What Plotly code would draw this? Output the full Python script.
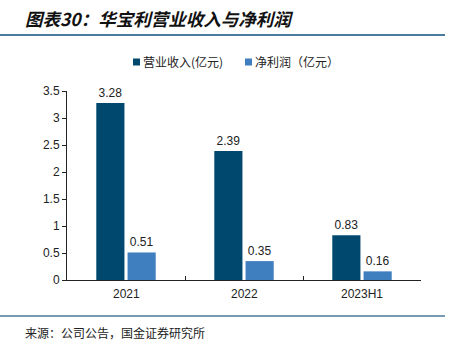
import plotly.graph_objects as go

categories = ["2021", "2022", "2023H1"]
revenue = [3.28, 2.39, 0.83]
net_profit = [0.51, 0.35, 0.16]
revenue_labels = ["3.28", "2.39", "0.83"]
profit_labels = ["0.51", "0.35", "0.16"]
series_names = ["营业收入(亿元)", "净利润（亿元）"]
y_ticks = [0, 0.5, 1, 1.5, 2, 2.5, 3, 3.5]
y_tick_text = ["0", "0.5", "1", "1.5", "2", "2.5", "3", "3.5"]

W, H = 458, 351
X0, X1 = 67, 421
YB, YT = 280, 91


def px(x):
    return (x - X0) / (X1 - X0)


def py(y):
    return (YB - y) / (YB - YT)


DARK = "#00486E"
LIGHT = "#3F7EBF"
LINE = "#4A7A9C"
NUM_FONT = "Liberation Sans, Arial, sans-serif"
CJK = "Noto Sans CJK SC"
colors = [DARK, LIGHT]

fig = go.Figure()
for vals, labels, name, col in [(revenue, revenue_labels, series_names[0], DARK),
                                (net_profit, profit_labels, series_names[1], LIGHT)]:
    fig.add_trace(go.Bar(
        x=categories, y=vals, name=name,
        marker=dict(color=col, line=dict(width=0)),
        text=labels, textposition="outside",
        textfont=dict(family=NUM_FONT, size=12, color="#222"),
        cliponaxis=False, showlegend=False,
    ))

fig.update_layout(
    width=W, height=H,
    margin=dict(l=X0, r=W - X1, t=YT, b=H - YB, autoexpand=False),
    paper_bgcolor="white", plot_bgcolor="white",
    barmode="group", bargap=0.47, bargroupgap=0.1,
    xaxis=dict(
        automargin=False,
        showline=True, linecolor="#222", linewidth=1,
        ticks="inside", ticklen=4, tickcolor="#222",
        tickmode="array", tickvals=[0.5, 1.5, 2.5],
        showticklabels=False,
        showgrid=False, zeroline=False,
        range=[-0.5, 2.5],
    ),
    yaxis=dict(
        automargin=False,
        range=[0, 3.5],
        tickvals=y_ticks, ticktext=y_tick_text,
        showline=True, linecolor="#222", linewidth=1,
        ticks="outside", ticklen=4, tickcolor="#222",
        showgrid=False, zeroline=False,
        tickfont=dict(family=NUM_FONT, size=12, color="#222"),
    ),
)

# category labels under each group centre
for i, c in enumerate(categories):
    fig.add_annotation(x=i, y=0, xref="x", yref="y", text=c, showarrow=False,
                       yanchor="middle", yshift=-14,
                       font=dict(family=NUM_FONT, size=12, color="#222"))

# custom legend
leg_y = 62
for name, col, lx in zip(series_names, colors, [133, 245]):
    fig.add_shape(type="rect", xref="paper", yref="paper",
                  x0=px(lx), x1=px(lx + 7), y0=py(leg_y + 3.5), y1=py(leg_y - 3.5),
                  fillcolor=col, line=dict(width=0))
    fig.add_annotation(xref="paper", yref="paper", x=px(lx + 8), y=py(leg_y),
                       xanchor="left", yanchor="middle", text=name, showarrow=False,
                       font=dict(family=CJK, size=12, color="#222"))

# title
fig.add_annotation(xref="paper", yref="paper", x=px(23), y=py(18), xanchor="left", yanchor="middle",
                   text="<b><i>图表30：华宝利营业收入与净利润</i></b>", showarrow=False,
                   font=dict(family=CJK, size=17.5, color="#111"))
# source
fig.add_annotation(xref="paper", yref="paper", x=px(23), y=py(332), xanchor="left", yanchor="middle",
                   text="来源：公司公告，国金证券研究所", showarrow=False,
                   font=dict(family=CJK, size=12, color="#222"))
# horizontal rules
fig.add_shape(type="line", xref="paper", yref="paper", x0=px(0), x1=px(445),
              y0=py(35), y1=py(35), line=dict(color=LINE, width=2))
fig.add_shape(type="line", xref="paper", yref="paper", x0=px(0), x1=px(445),
              y0=py(316), y1=py(316), line=dict(color=LINE, width=1.5))

fig.write_html("out.html")
